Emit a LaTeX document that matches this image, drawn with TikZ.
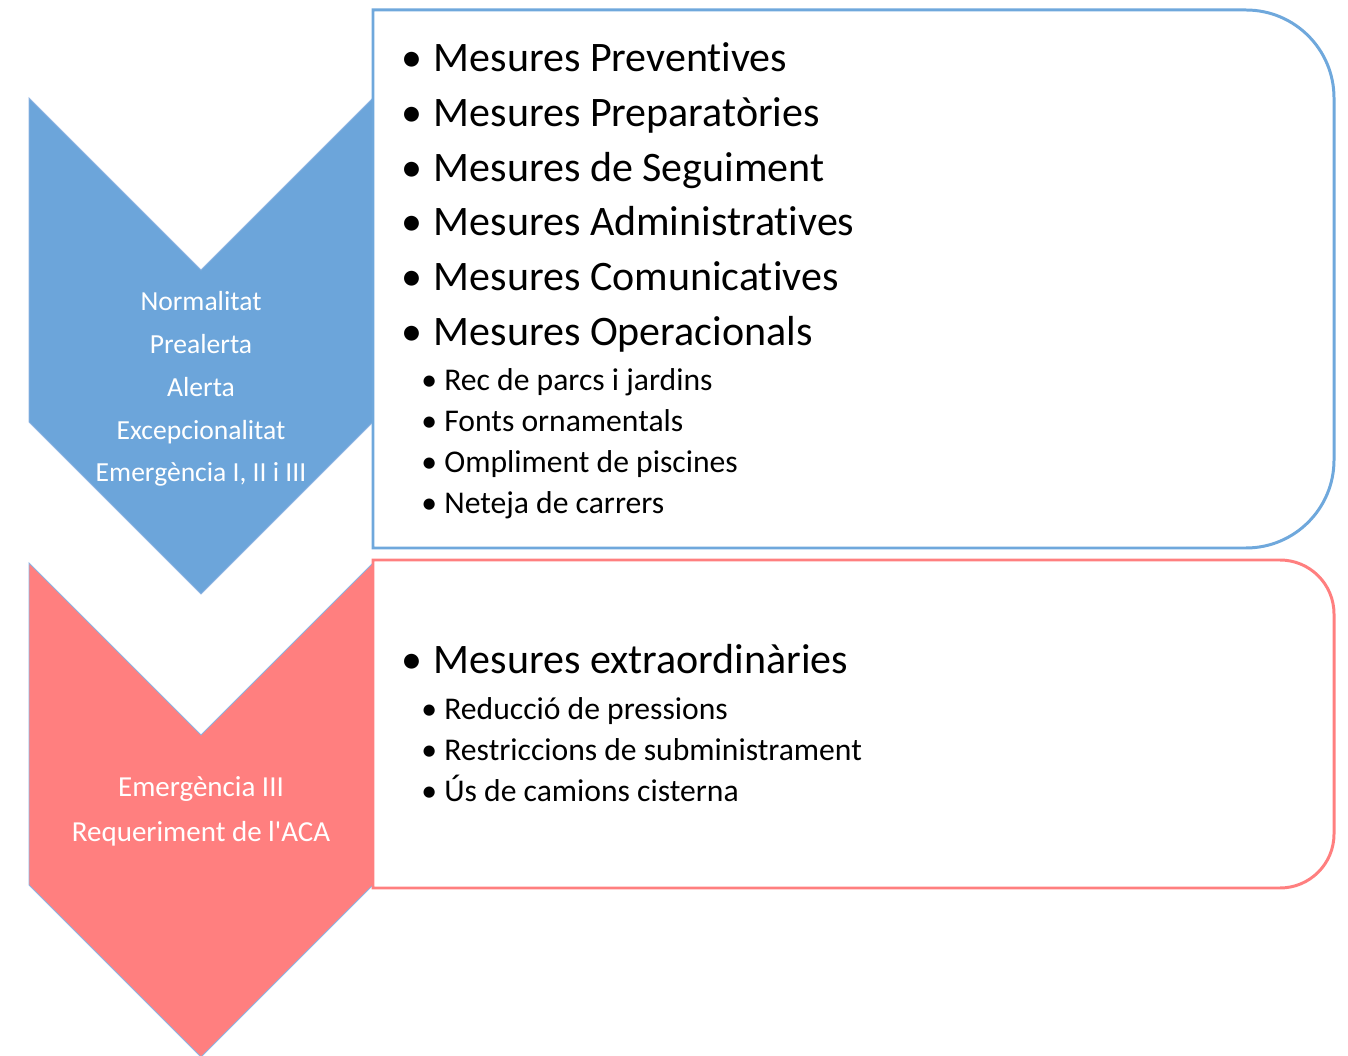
\documentclass[tikz,border=0pt]{standalone}
\usepackage{fontspec}
\setmainfont{Carlito}[Ligatures={TeX,NoCommon}]
\usepackage{xcolor}

\definecolor{chevblue}{HTML}{6CA5DA}
\definecolor{chevred}{HTML}{FF7F7F}
\definecolor{lineblue}{HTML}{6FA8DC}
\definecolor{edgeblue}{HTML}{8DB3E2}

\newcommand{\bigdot}{\makebox[0.65cm][l]{\textbullet}}
\newcommand{\smalldot}{\makebox[0.46cm][l]{\textbullet}}

\begin{document}
\begin{tikzpicture}[x=0.02cm, y=0.02cm,
  chev/.style={draw=edgeblue, line width=0.5pt, line join=miter},
  chevtext/.style={text=white, align=center, inner sep=0pt},
  bigitem/.style={anchor=base west, inner sep=0pt, font=\fontsize{23.9}{28}\selectfont},
  smallitem/.style={anchor=base west, inner sep=0pt, font=\fontsize{18}{22}\selectfont},
  box/.style={line width=1.7pt}]

\useasboundingbox (0,0) rectangle (1348,1055);

%%%%%%%%%%%%     chevrons   %%%%%%%%%%%%
{
\filldraw[chev, fill=chevblue] (29,957)--(201,785)--(373,957)--(373,633)--(201,461)--(29,633)--cycle;
\filldraw[chev, fill=chevred] (29,492)--(201,320)--(373,492)--(373,170)--(201,-2)--(29,170)--cycle;

\node[chevtext, font=\fontsize{15.7}{24.4}\selectfont] (levels) at (201,666)
  {Normalitat\\Prealerta\\Alerta\\Excepcionalitat\\Emergència I, II i III};
\node[chevtext, font=\fontsize{16.5}{25.5}\selectfont] (emerg) at (201,244)
  {Emergència III\\Requeriment de l\textquotesingle ACA};
}

%%%%%%%%%%%%     boxes   %%%%%%%%%%%%
{
\draw[box, lineblue] (373,507)--(373,1045)--(1246,1045) arc[start angle=90, end angle=0, radius=88]
  --(1334,595) arc[start angle=0, end angle=-90, radius=88]--cycle;
\draw[box, chevred] (373,167)--(373,495)--(1280,495) arc[start angle=90, end angle=0, radius=54]
  --(1334,221) arc[start angle=0, end angle=-90, radius=54]--cycle;
}

% measures, upper box
{
\node[bigitem] (prev) at (401,983) {\bigdot Mesures Preventives};
\node[bigitem] (prep) at (401,928) {\bigdot Mesures Preparatòries};
\node[bigitem] (segu) at (401,873) {\bigdot Mesures de Seguiment};
\node[bigitem] (admin) at (401,819) {\bigdot Mesures Administratives};
\node[bigitem] (comu) at (401,764) {\bigdot Mesures Comunicatives};
\node[bigitem] (oper) at (401,709) {\bigdot Mesures Operacionals};

\node[smallitem] (rec) at (421,664) {\smalldot Rec de parcs i jardins};
\node[smallitem] (fonts) at (421,623) {\smalldot Fonts ornamentals};
\node[smallitem] (pisc) at (421,582) {\smalldot Ompliment de piscines};
\node[smallitem] (neteja) at (421,541) {\smalldot Neteja de carrers};
}

% measures, lower box
{
\node[bigitem] (extra) at (401,381) {\bigdot Mesures extraordinàries};

\node[smallitem] (press) at (421,336) {\smalldot Reducció de pressions};
\node[smallitem] (restr) at (421,295) {\smalldot Restriccions de subministrament};
\node[smallitem] (cist) at (421,254) {\smalldot Ús de camions cisterna};
}

\end{tikzpicture}
\end{document}
